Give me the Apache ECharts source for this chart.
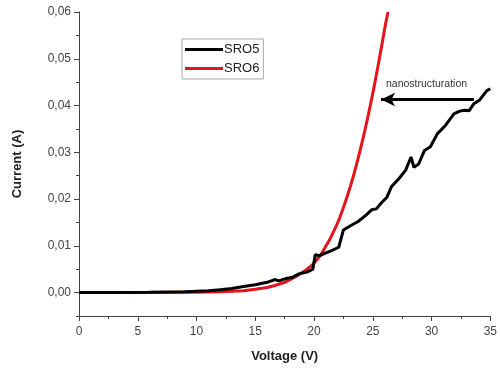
<!DOCTYPE html>
<html><head><meta charset="utf-8">
<script src="https://cdn.jsdelivr.net/npm/echarts@6/dist/echarts.min.js"></script>
<style>html,body{margin:0;padding:0;background:#fff}#c{width:500px;height:372px}</style>
</head><body><div id="c"></div>
<script>
const seriesNames = ['SRO5', 'SRO6'];
const sro5 = [[0,0],[3,0.00005],[6,0.0001],[9,0.0002],[11,0.0004],[12,0.0006],[13,0.0009],[14,0.0013],[15,0.0017],[16,0.0022],[16.7,0.0028],[17,0.0025],[17.6,0.003],[18.2,0.0033],[18.7,0.004],[19.4,0.0044],[19.9,0.005],[20.1,0.0081],[20.5,0.0079],[20.9,0.0084],[21.5,0.009],[22.1,0.0097],[22.5,0.0134],[23.1,0.0143],[23.75,0.0152],[24.4,0.0165],[24.9,0.0177],[25.3,0.0179],[25.7,0.0191],[26.2,0.0204],[26.6,0.0227],[27.2,0.0243],[27.8,0.0262],[28.25,0.029],[28.5,0.0268],[28.9,0.0275],[29.4,0.0304],[29.9,0.0312],[30.5,0.034],[31.2,0.0358],[31.9,0.0382],[32.4,0.0388],[32.8,0.039],[33.2,0.0389],[33.6,0.0404],[34.1,0.0412],[34.7,0.0432],[35,0.0436]];
const sro6 = [[0,0],[5,0.00005],[10,0.0001],[12,0.0002],[13,0.0003],[14,0.0004],[15,0.0007],[16,0.0011],[16.5,0.0014],[17,0.0018],[17.5,0.0022],[18,0.0028],[18.5,0.0035],[19,0.0043],[19.4,0.005],[19.8,0.0058],[20.1,0.0066],[20.4,0.0075],[20.7,0.0086],[21,0.0099],[21.3,0.0112],[21.6,0.0127],[21.9,0.0143],[22.2,0.0161],[22.5,0.0182],[22.8,0.0204],[23.1,0.0228],[23.4,0.0254],[23.7,0.0282],[24,0.0312],[24.3,0.0344],[24.6,0.0378],[24.9,0.0414],[25.2,0.0452],[25.5,0.0492],[25.8,0.0534],[26.1,0.0577],[26.3,0.06]];
const xTicks = [0,5,10,15,20,25,30,35];
const yTicks = [0,0.01,0.02,0.03,0.04,0.05,0.06];
const xTitle = 'Voltage (V)';
const yTitle = 'Current (A)';
const annotation = 'nanostructuration';
const arrowFrom = [33.6, 0.0413];
const arrowTo = [25.7, 0.0413];

const chart = echarts.init(document.getElementById('c'), null, {renderer:'canvas'});
const font = 'Liberation Sans, Arial, sans-serif';
const fmt = v => v.toFixed(2).replace('.', ',');
chart.setOption({
  animation: false,
  backgroundColor: '#fff',
  grid: {left: 79, right: 7, top: 12, bottom: 56, containLabel: false},
  legend: {
    data: seriesNames, orient: 'vertical', left: 182, top: 39,
    icon: 'rect', itemWidth: 38, itemHeight: 3, itemGap: 6,
    borderColor: '#aaa', borderWidth: 1, padding: [4, 4, 4, 3],
    textStyle: {fontFamily: font, fontSize: 13, color: '#222', padding: [0,0,0,-4]}
  },
  xAxis: {
    type: 'value', min: 0, max: 35, interval: 5,
    name: xTitle, nameLocation: 'middle', nameGap: 34,
    nameTextStyle: {fontFamily: font, fontSize: 13, fontWeight: 'bold', color: '#222'},
    axisLine: {onZero: false, lineStyle: {color: '#444', width: 1}},
    axisTick: {show: true, length: 5, lineStyle: {color: '#444'}},
    minorTick: {show: true, splitNumber: 2, length: 3, lineStyle: {color: '#444'}},
    axisLabel: {fontFamily: font, fontSize: 12, color: '#444', margin: 10,
      customValues: xTicks},
    splitLine: {show: false}
  },
  yAxis: [{
    type: 'value', min: -0.005, max: 0.06, interval: 0.005,
    axisLine: {show: true, lineStyle: {color: '#444', width: 1}},
    axisTick: {show: true, length: 3, lineStyle: {color: '#444'}},
    axisLabel: {show: false},
    splitLine: {show: false}
  }, {
    type: 'value', min: -0.005, max: 0.06, position: 'left', offset: 0,
    name: yTitle, nameLocation: 'middle', nameGap: 55, nameRotate: 90,
    nameTextStyle: {fontFamily: font, fontSize: 13, fontWeight: 'bold', color: '#222'},
    axisLine: {show: false},
    axisTick: {show: true, length: 5, lineStyle: {color: '#444'}, customValues: yTicks},
    axisLabel: {fontFamily: font, fontSize: 12, color: '#444', margin: 8,
      customValues: yTicks, formatter: fmt},
    splitLine: {show: false}
  }],
  series: [{
    name: seriesNames[0], type: 'line', data: sro5, showSymbol: false,
    lineStyle: {color: '#000', width: 3}, itemStyle: {color: '#000'}, z: 3,
    markLine: {
      silent: true, symbol: ['none', 'arrow'], symbolSize: [10, 14],
      lineStyle: {color: '#000', width: 3, type: 'solid'},
      label: {show: false},
      data: [[{coord: arrowFrom}, {coord: arrowTo}]]
    }
  }, {
    name: seriesNames[1], type: 'line', data: sro6, showSymbol: false, smooth: false,
    lineStyle: {color: '#e3141b', width: 3, join: 'round'}, itemStyle: {color: '#e3141b'}, z: 2
  }],
  graphic: [{
    type: 'text', left: 386, top: 79,
    style: {text: annotation, font: '10.5px ' + font, fill: '#333'}
  }]
});
</script></body></html>
